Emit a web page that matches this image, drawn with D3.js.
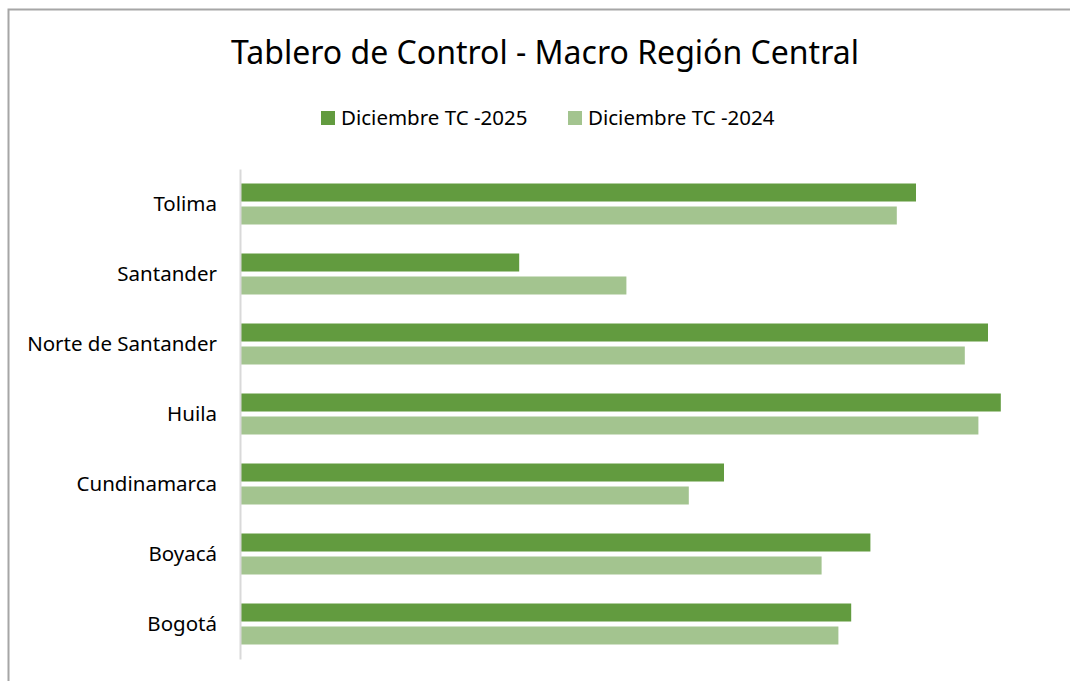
<!DOCTYPE html>
<html>
<head>
<meta charset="utf-8">
<script src="https://cdn.jsdelivr.net/npm/d3@7"></script>
<style>
  body { margin: 0; background: #fff; }
  svg { display: block; font-family: "Noto Sans", sans-serif; }
</style>
</head>
<body>
<script>
// data (no value axis shown, scale 0-100 assumed)
const categories = ["Tolima", "Santander", "Norte de Santander", "Huila", "Cundinamarca", "Boyacá", "Bogotá"];
const seriesNames = ["Diciembre TC -2025", "Diciembre TC -2024"];
const values2025 = [84.5, 34.9, 93.5, 95.1, 60.5, 78.8, 76.4];
const values2024 = [82.1, 48.3, 90.6, 92.3, 56.1, 72.7, 74.8];
const colors = ["#629b3f", "#a3c48f"];

const width = 1070, height = 681;

const svg = d3.select("body").append("svg")
  .attr("width", width)
  .attr("height", height);

// chart frame (only top and left edges are visible in the crop)
svg.append("rect")
  .attr("x", 8.5).attr("y", 9.5)
  .attr("width", width + 20).attr("height", height + 20)
  .attr("fill", "none")
  .attr("stroke", "#a6a6a6")
  .attr("stroke-width", 2);

svg.append("text")
  .attr("x", 545)
  .attr("y", 64)
  .attr("text-anchor", "middle")
  .attr("font-size", 32)
  .attr("fill", "#000")
  .text("Tablero de Control - Macro Región Central");

// legend
const legendX = [321, 568];
seriesNames.forEach((name, i) => {
  svg.append("rect")
    .attr("x", legendX[i]).attr("y", 111)
    .attr("width", 14).attr("height", 14)
    .attr("fill", colors[i]);
  svg.append("text")
    .attr("x", legendX[i] + 20).attr("y", 125)
    .attr("font-size", 20.5)
    .attr("fill", "#000")
    .text(name);
});

const x = d3.scaleLinear().domain([0, 100]).range([240, 1040]);

const y = d3.scaleBand()
  .domain(categories)
  .range([169, 659])
  .paddingInner(29 / 70)
  .paddingOuter(29 / 140);

const yInner = d3.scaleBand()
  .domain(seriesNames)
  .range([0, y.bandwidth()])
  .paddingInner(0.217);

const rows = categories.map((c, i) => ({ cat: c, vals: [values2025[i], values2024[i]] }));

const groups = svg.selectAll("g.row")
  .data(rows)
  .enter()
  .append("g")
  .attr("class", "row")
  .attr("transform", d => `translate(0,${y(d.cat)})`);

groups.selectAll("rect")
  .data(d => d.vals.map((v, i) => ({ name: seriesNames[i], v: v, i: i })))
  .enter()
  .append("rect")
  .attr("x", x(0))
  .attr("y", d => yInner(d.name))
  .attr("width", d => x(d.v) - x(0))
  .attr("height", yInner.bandwidth())
  .attr("fill", d => colors[d.i]);

const yAxis = svg.append("g")
  .attr("transform", `translate(${x(0)},0)`)
  .call(d3.axisLeft(y).tickSize(0).tickPadding(23).tickSizeOuter(0));

yAxis.select(".domain")
  .attr("stroke", "#d9d9d9")
  .attr("stroke-width", 2);

yAxis.selectAll("text")
  .attr("font-size", 20.5)
  .attr("font-family", "Noto Sans, sans-serif")
  .attr("fill", "#000");
</script>
</body>
</html>
